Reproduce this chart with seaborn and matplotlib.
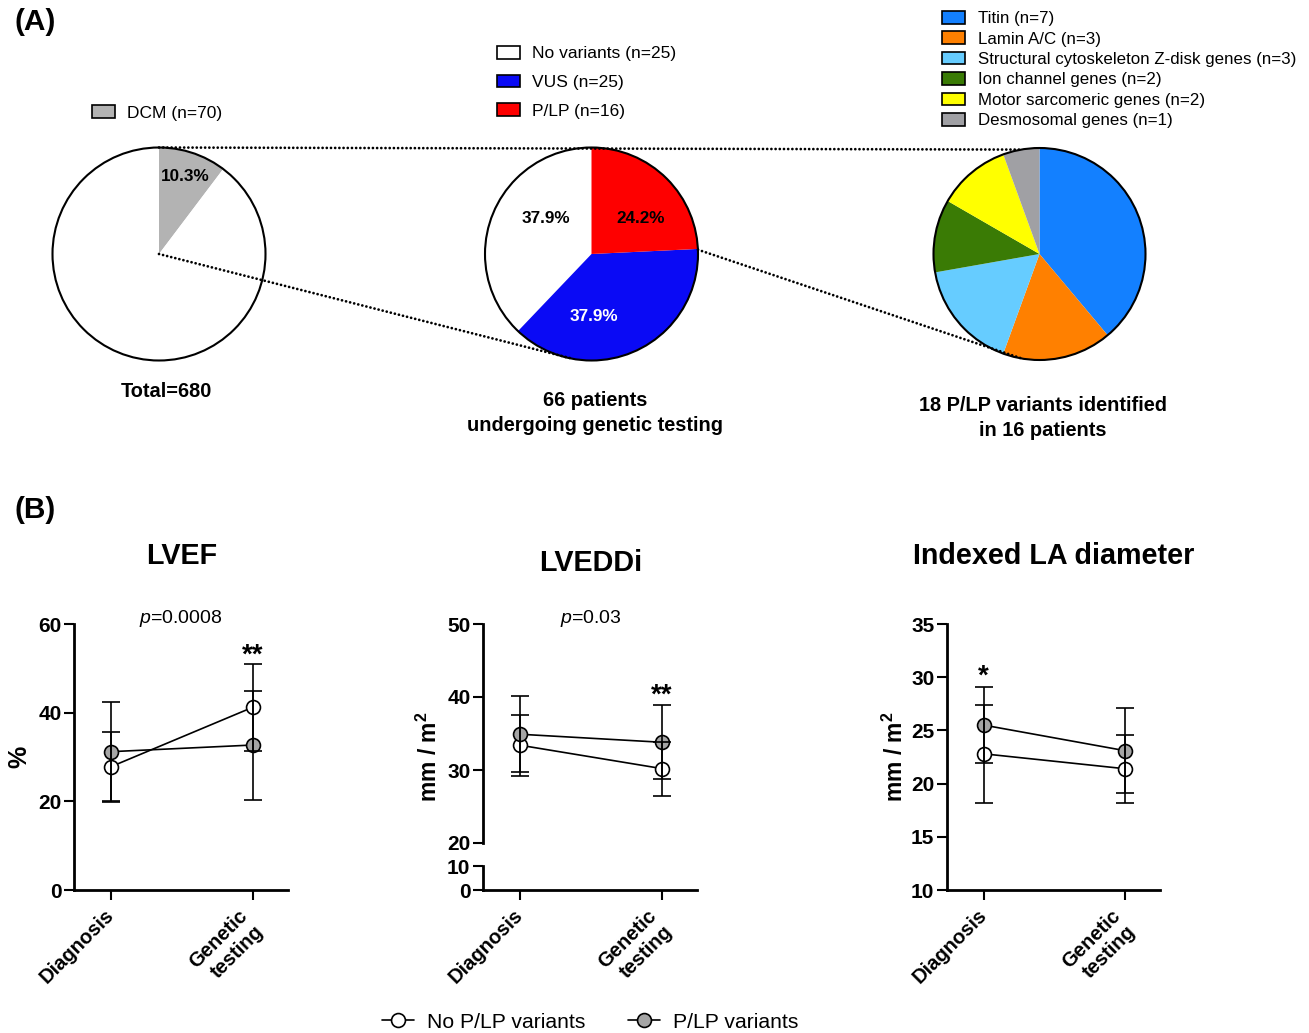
import numpy as np
import pandas as pd
import matplotlib.pyplot as plt
import seaborn as sns
from matplotlib.patches import Patch, Circle, ConnectionPatch
from matplotlib.lines import Line2D
from matplotlib.transforms import ScaledTranslation

sns.set_theme(style="ticks")
plt.rcParams['font.family'] = ['Liberation Sans', 'DejaVu Sans']
plt.rcParams['mathtext.fontset'] = 'custom'
plt.rcParams['mathtext.rm'] = 'Liberation Sans'
plt.rcParams['mathtext.it'] = 'Liberation Sans:italic'
plt.rcParams['mathtext.bf'] = 'Liberation Sans:bold'
for key in ['text.color', 'axes.labelcolor', 'xtick.color', 'ytick.color', 'axes.edgecolor']:
    plt.rcParams[key] = 'black'

# ---- (A) pie data ----
dcm_labels = ['DCM (n=70)', 'Other']
dcm_counts = [70, 610]
dcm_colors = ['#b3b3b3', 'white']

gen_labels = ['No variants (n=25)', 'VUS (n=25)', 'P/LP (n=16)']
gen_counts = [25, 25, 16]
gen_colors = ['white', '#0a0af5', '#fe0000']

var_labels = ['Titin (n=7)', 'Lamin A/C (n=3)', 'Structural cytoskeleton Z-disk genes (n=3)',
              'Ion channel genes (n=2)', 'Motor sarcomeric genes (n=2)', 'Desmosomal genes (n=1)']
var_counts = [7, 3, 3, 2, 2, 1]
var_colors = ['#1380ff', '#ff8000', '#66ccff', '#3a7b05', '#ffff00', '#a0a0a4']

# ---- (B) echo data (mean, SD) ----
timepoints = ['Diagnosis', 'Genetic\ntesting']
series_names = ['No P/LP variants', 'P/LP variants']

lvef_no = [27.8, 41.2]
lvef_no_sd = [7.9, 9.8]
lvef_plp = [31.2, 32.7]
lvef_plp_sd = [11.1, 12.3]

lveddi_no = [33.4, 30.2]
lveddi_no_sd = [4.2, 3.7]
lveddi_plp = [34.9, 33.8]
lveddi_plp_sd = [5.2, 5.1]

la_no = [22.8, 21.4]
la_no_sd = [4.6, 3.2]
la_plp = [25.5, 23.1]
la_plp_sd = [3.6, 4.0]

W, H = 1309, 1033
fig = plt.figure(figsize=(W / 100, H / 100), dpi=100)


def box(x0, y0, x1, y1):
    """pixel box (top-left origin) -> figure fraction rect"""
    return [x0 / W, 1 - y1 / H, (x1 - x0) / W, (y1 - y0) / H]


def pie_axes(cx, cy, r):
    m = 1.02
    return fig.add_axes(box(cx - r * m, cy - r * m, cx + r * m, cy + r * m))


def draw_pie(ax, counts, colors, counterclock, autopct=None, pctdistance=0.6):
    res = ax.pie(counts, colors=colors, startangle=90, counterclock=counterclock,
                 wedgeprops=dict(linewidth=0), autopct=autopct, pctdistance=pctdistance,
                 textprops=dict(fontsize=12.3, fontweight='bold', color='black'))
    ax.add_patch(Circle((0, 0), 1, fill=False, lw=1.5, ec='black'))
    ax.set_xlim(-1.02, 1.02)
    ax.set_ylim(-1.02, 1.02)
    return res


# pie 1
ax_p1 = pie_axes(159, 254, 106.5)
draw_pie(ax_p1, dcm_counts, dcm_colors, False,
         autopct=lambda p: f'{p:.1f}%' if p < 50 else '', pctdistance=0.77)

# pie 2
ax_p2 = pie_axes(591.5, 254, 106.5)
_, _, gen_txt = draw_pie(ax_p2, gen_counts, gen_colors, True, autopct='%.1f%%')
for t, pos, c in zip(gen_txt, [(-0.43, 0.33), (0.02, -0.59), (0.46, 0.33)],
                     ['black', 'white', 'black']):
    t.set_position(pos)
    t.set_color(c)

# pie 3
ax_p3 = pie_axes(1039.5, 254, 106)
draw_pie(ax_p3, var_counts, var_colors, False)

# dotted connectors
for axA, xyA, axB, xyB in [(ax_p1, (0, 1), ax_p3, (-0.17, 0.985)),
                           (ax_p1, (0, 0), ax_p2, (-0.17, -0.985)),
                           (ax_p2, (1, 0.04), ax_p3, (-0.17, -0.985))]:
    con = ConnectionPatch(xyA=xyA, coordsA='data', axesA=axA, xyB=xyB, coordsB='data',
                          axesB=axB, linestyle=(0, (0.01, 1.5)), lw=2.0, color='black',
                          capstyle='round')
    fig.add_artist(con)

# pie legends
leg_kw = dict(frameon=False, borderpad=0, borderaxespad=0, handletextpad=0.7)
fig.legend(handles=[Patch(fc=dcm_colors[0], ec='black', lw=1.2, label=dcm_labels[0])],
           loc='center left', bbox_to_anchor=(92 / W, 1 - 113 / H), fontsize=12.5,
           handlelength=1.32, handleheight=0.75, **leg_kw)
fig.legend(handles=[Patch(fc=c, ec='black', lw=1.2, label=l) for c, l in zip(gen_colors, gen_labels)],
           loc='upper left', bbox_to_anchor=(497 / W, 1 - 46 / H), fontsize=12.5,
           handlelength=1.32, handleheight=0.75, labelspacing=0.76, **leg_kw)
fig.legend(handles=[Patch(fc=c, ec='black', lw=1.2, label=l) for c, l in zip(var_colors, var_labels)],
           loc='upper left', bbox_to_anchor=(942 / W, 1 - 11 / H), fontsize=12.2,
           handlelength=1.37, handleheight=0.76, labelspacing=0.31, handletextpad=0.76,
           frameon=False, borderpad=0, borderaxespad=0)

# pie captions
cap_kw = dict(ha='center', va='center', fontsize=14.4, fontweight='bold', linespacing=1.45)
fig.text(166 / W, 1 - 391 / H, 'Total=680', **cap_kw)
fig.text(595 / W, 1 - 413 / H, '66 patients\nundergoing genetic testing', **cap_kw)
fig.text(1043 / W, 1 - 418 / H, '18 P/LP variants identified\nin 16 patients', **cap_kw)

fig.text(35 / W, 1 - 22 / H, '(A)', ha='center', va='center', fontsize=21.5, fontweight='bold')
fig.text(35 / W, 1 - 510 / H, '(B)', ha='center', va='center', fontsize=21.5, fontweight='bold')

# ---- (B) line charts ----
GRAY = '#a5a5a5'


def draw_series(ax, y, err, face):
    df = pd.DataFrame({'x': [0, 1], 'y': y})
    sns.lineplot(data=df, x='x', y='y', ax=ax, color='black', linewidth=1.2, marker='o',
                 markersize=10, markerfacecolor=face, markeredgecolor='black',
                 markeredgewidth=1.2, zorder=3, legend=False)
    ax.errorbar(df['x'], df['y'], yerr=err, fmt='none', ecolor='black',
                elinewidth=1.2, capsize=6.5, capthick=1.2, zorder=4)


def style_axis(ax, yticks, ylim):
    ax.set_xlim(-0.26, 1.25)
    ax.set_ylim(*ylim)
    ax.set_yticks(yticks)
    ax.set_yticklabels([str(v) for v in yticks], fontweight='bold', fontsize=15)
    ax.tick_params(axis='both', length=7, width=1.5, pad=2, colors='black')
    for s in ax.spines.values():
        s.set_linewidth(2)
        s.set_color('black')
    sns.despine(ax=ax)
    ax.set_xlabel('')
    ax.set_ylabel('')


def set_xlabels(ax):
    ax.set_xticks([0, 1])
    ax.set_xticklabels(timepoints, rotation=45, ha='right', va='center',
                       rotation_mode='anchor', fontweight='bold', fontsize=14.5,
                       multialignment='right', linespacing=1.2)
    ax.tick_params(axis='x', pad=9)
    # the two-line label sits a little lower in the original
    lbl = ax.get_xticklabels()[1]
    lbl.set_transform(lbl.get_transform() + ScaledTranslation(0, -9 / 100, fig.dpi_scale_trans))


ylab_kw = dict(fontsize=16.5, fontweight='bold')
star_kw = dict(ha='center', va='baseline', fontsize=20, fontweight='bold')

# LVEF
ax1 = fig.add_axes(box(74, 624, 288, 890))
draw_series(ax1, lvef_no, lvef_no_sd, 'white')
draw_series(ax1, lvef_plp, lvef_plp_sd, GRAY)
style_axis(ax1, [0, 20, 40, 60], (0, 60))
set_xlabels(ax1)
ax1.set_ylabel('%', fontsize=18, fontweight='bold')
ax1.yaxis.set_label_coords(-0.2, 0.5)
ax1.text(0.49, 61.2, '$p$=0.0008', ha='center', va='center', fontsize=14)
ax1.text(1, 51.3, '**', **star_kw)

# LVEDDi (broken axis)
ax2 = fig.add_axes(box(483, 624, 697, 843))
ax2b = fig.add_axes(box(483, 866, 697, 890))
draw_series(ax2, lveddi_no, lveddi_no_sd, 'white')
draw_series(ax2, lveddi_plp, lveddi_plp_sd, GRAY)
style_axis(ax2, [20, 30, 40, 50], (20, 50))
ax2.spines['bottom'].set_visible(False)
ax2.tick_params(axis='x', bottom=False, labelbottom=False)
style_axis(ax2b, [0, 10], (0, 10))
set_xlabels(ax2b)
ax2.set_ylabel(r'mm / m$^\mathbf{2}$', **ylab_kw)
ax2.yaxis.set_label_coords(-0.19, 0.393)
ax2.text(0.5, 50.7, '$p$=0.03', ha='center', va='center', fontsize=14)
ax2.text(1, 39.2, '**', **star_kw)

# Indexed LA diameter
ax3 = fig.add_axes(box(947, 624, 1160, 890))
draw_series(ax3, la_no, la_no_sd, 'white')
draw_series(ax3, la_plp, la_plp_sd, GRAY)
style_axis(ax3, [10, 15, 20, 25, 30, 35], (10, 35))
set_xlabels(ax3)
ax3.set_ylabel(r'mm / m$^\mathbf{2}$', **ylab_kw)
ax3.yaxis.set_label_coords(-0.185, 0.5)
ax3.text(0, 29.4, '*', **star_kw)

# panel titles
ttl_kw = dict(ha='center', va='center', fontsize=20.7, fontweight='bold')
fig.text(182 / W, 1 - 556 / H, 'LVEF', **ttl_kw)
fig.text(591 / W, 1 - 563 / H, 'LVEDDi', **ttl_kw)
fig.text(1054 / W, 1 - 556 / H, 'Indexed LA diameter', **ttl_kw)

# bottom legend
handles = [Line2D([], [], color='black', lw=1.2, marker='o', markersize=10,
                  markerfacecolor=f, markeredgecolor='black', markeredgewidth=1.2, label=n)
           for f, n in zip(['white', GRAY], series_names)]
fig.legend(handles=handles, loc='center', bbox_to_anchor=(590 / W, 1 - 1022 / H), ncol=2,
           frameon=False, fontsize=15.2, handlelength=1.55, handletextpad=0.6,
           columnspacing=2.0, borderpad=0, borderaxespad=0)

fig.savefig('out.png', dpi=100)
